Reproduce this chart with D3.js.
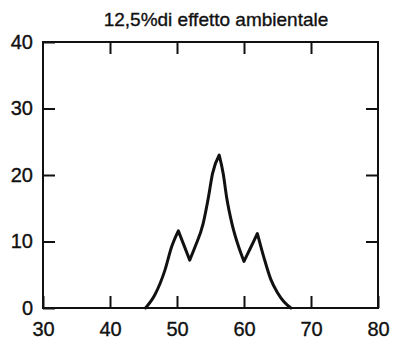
<!DOCTYPE html>
<html>
<head>
<meta charset="utf-8">
<script src="https://cdn.jsdelivr.net/npm/d3@7"></script>
<style>
  html, body { margin: 0; padding: 0; background: #fff; }
  svg { display: block; }
  text { font-family: "Liberation Sans", Arial, Helvetica, sans-serif; fill: #111; stroke: #111; stroke-width: 0.35px; }
</style>
</head>
<body>
<svg id="chart" width="395" height="340"></svg>
<script>
// ---- data ----
const title = "12,5%di effetto ambientale";
const xTicks = [30, 40, 50, 60, 70, 80];
const yTicks = [0, 10, 20, 30, 40];
const xValues = [45.3, 46.7, 48.2, 49.2, 50.2, 51.9, 52.7, 53.9, 54.7, 55.3, 56.3, 56.9, 57.4, 58.2, 59.2, 60.0, 61.0, 62.0, 63.0, 64.0, 65.0, 66.0, 67.0];
const yValues = [0, 2.0, 5.7, 9.2, 11.6, 7.2, 9.2, 12.7, 16.7, 20.2, 23.0, 20.2, 16.7, 12.7, 9.2, 7.0, 9.1, 11.2, 7.5, 4.3, 2.3, 0.9, 0];

// ---- layout ----
const svg = d3.select("#chart");
const mLeft = 43, mRight = 378, mTop = 42, mBottom = 308;
const x = d3.scaleLinear().domain([30, 80]).range([mLeft, mRight]);
const y = d3.scaleLinear().domain([0, 40]).range([mBottom, mTop]);
const tick = 12;

// title
svg.append("text")
  .attr("x", 216).attr("y", 26)
  .attr("text-anchor", "middle")
  .style("font-size", "19px")
  .text(title);

function styleAxis(g) {
  g.select(".domain").remove();
  g.selectAll(".tick line").attr("stroke", "#111").attr("stroke-width", 2);
  g.selectAll(".tick text").style("font-size", "20px").attr("fill", "#111")
    .style("font-family", '"Liberation Sans", Arial, sans-serif');
}

// bottom axis (labels + inward ticks)
svg.append("g")
  .attr("transform", `translate(0,${mBottom})`)
  .call(d3.axisBottom(x).tickValues(xTicks).tickSizeInner(-tick).tickSizeOuter(0).tickPadding(14).tickFormat(d3.format("d")))
  .call(styleAxis);

// left axis
svg.append("g")
  .attr("transform", `translate(${mLeft},0)`)
  .call(d3.axisLeft(y).tickValues(yTicks).tickSizeInner(-tick).tickSizeOuter(0).tickPadding(10).tickFormat(d3.format("d")))
  .call(styleAxis);

// top axis (ticks only)
svg.append("g")
  .attr("transform", `translate(0,${mTop})`)
  .call(d3.axisTop(x).tickValues(xTicks.slice(1, -1)).tickSizeInner(-tick).tickSizeOuter(0).tickFormat(""))
  .call(styleAxis);

// right axis (ticks only)
svg.append("g")
  .attr("transform", `translate(${mRight},0)`)
  .call(d3.axisRight(y).tickValues(yTicks.slice(1, -1)).tickSizeInner(-tick).tickSizeOuter(0).tickFormat(""))
  .call(styleAxis);

// frame
svg.append("rect")
  .attr("x", mLeft).attr("y", mTop)
  .attr("width", mRight - mLeft).attr("height", mBottom - mTop)
  .attr("fill", "none").attr("stroke", "#111").attr("stroke-width", 2);

// curve: smooth monotone runs, sharp at the peaks and troughs
const pts = xValues.map((v, i) => [v, yValues[i]]);
const runs = [];
let run = [pts[0]];
for (let i = 1; i < pts.length; i++) {
  run.push(pts[i]);
  const isExt = i < pts.length - 1 &&
    ((pts[i][1] - pts[i - 1][1]) * (pts[i + 1][1] - pts[i][1]) < 0);
  if (isExt) { runs.push(run); run = [pts[i]]; }
}
runs.push(run);
const line = d3.line().x(d => x(d[0])).y(d => y(d[1])).curve(d3.curveMonotoneX);
const dStr = runs.map((r, k) => {
  const s = line(r);
  return k === 0 ? s : "L" + s.slice(1);
}).join("");
svg.append("path")
  .attr("fill", "none")
  .attr("stroke", "#111")
  .attr("stroke-width", 3)
  .attr("stroke-linejoin", "round")
  .attr("stroke-linecap", "round")
  .attr("d", dStr);
</script>
</body>
</html>
